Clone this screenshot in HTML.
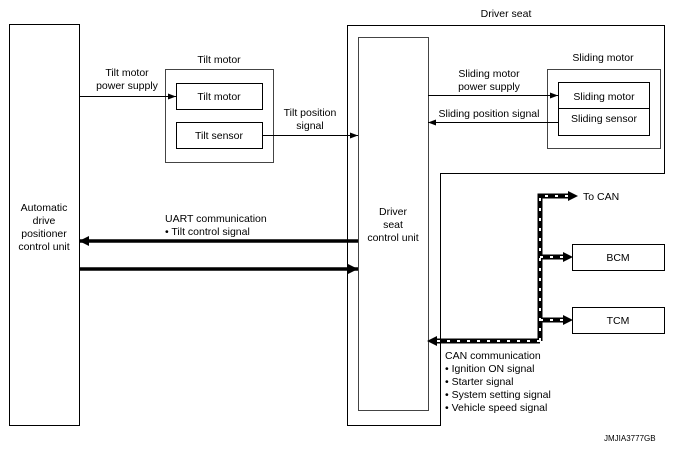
<!DOCTYPE html>
<html><head><meta charset="utf-8"><style>
body{margin:0;background:#fff}
svg text{font-family:"Liberation Sans",sans-serif;font-size:10.5px;fill:#000}
</style></head><body>
<svg width="674" height="449" viewBox="0 0 674 449" xmlns="http://www.w3.org/2000/svg">
<defs>
<marker id="a" markerWidth="8" markerHeight="6" refX="8" refY="3" orient="auto" markerUnits="userSpaceOnUse"><path d="M0,0L8,3L0,6z" fill="#000"/></marker>
<marker id="b" markerWidth="10" markerHeight="10" refX="10" refY="5" orient="auto" markerUnits="userSpaceOnUse"><path d="M0,0L10,5L0,10z" fill="#000"/></marker>
</defs>
<g fill="none" stroke="#000" stroke-width="1">
<rect x="9.5" y="24.5" width="70" height="401"/>
<rect x="165.5" y="69.5" width="108" height="93" stroke="#444"/>
<rect x="176.5" y="83.5" width="86" height="26"/>
<rect x="176.5" y="122.5" width="86" height="26"/>
<path d="M347.5,25.5H664.5V173.5H440.5V425.5H347.5Z"/>
<rect x="358.5" y="37.5" width="70" height="373" stroke="#444"/>
<rect x="547.5" y="69.5" width="113" height="79" stroke="#444"/>
<rect x="558.5" y="82.5" width="91" height="53"/>
<line x1="558" y1="108.5" x2="650" y2="108.5"/>
<rect x="572.5" y="244.5" width="92" height="26"/>
<rect x="572.5" y="307.5" width="92" height="26"/>
<line x1="79" y1="96.5" x2="176" y2="96.5" marker-end="url(#a)"/>
<line x1="262" y1="135.5" x2="358" y2="135.5" marker-end="url(#a)"/>
<line x1="428" y1="95.5" x2="558" y2="95.5" marker-end="url(#a)"/>
<line x1="558" y1="122.5" x2="428" y2="122.5" marker-end="url(#a)"/>
<line x1="358" y1="241" x2="79" y2="241" stroke-width="3.5" marker-end="url(#b)"/>
<line x1="79" y1="269" x2="358" y2="269" stroke-width="3.5" marker-end="url(#b)"/>
<g stroke-width="5" stroke="#000">
<path d="M540,341V196H570"/><path d="M540,257H564"/><path d="M540,320H564"/><path d="M540,341H436"/>
</g>
<g stroke-width="2" stroke="#fff" stroke-dasharray="3 7">
<path d="M540,341V196H570"/><path d="M540,257H564"/><path d="M540,320H564"/><path d="M540,341H436"/>
</g>
</g>
<g fill="#000">
<path d="M568,191L578,196L568,201z"/>
<path d="M563,252L573,257L563,262z"/>
<path d="M563,315L573,320L563,325z"/>
<path d="M437,336L427,341L437,346z"/>
</g>
<text x="44" y="211" text-anchor="middle">Automatic</text>
<text x="44" y="224" text-anchor="middle">drive</text>
<text x="44" y="237" text-anchor="middle">positioner</text>
<text x="44" y="250" text-anchor="middle">control unit</text>
<text x="219" y="63" text-anchor="middle">Tilt motor</text>
<text x="127" y="76" text-anchor="middle">Tilt motor</text>
<text x="127" y="89" text-anchor="middle">power supply</text>
<text x="219" y="100" text-anchor="middle">Tilt motor</text>
<text x="219" y="139" text-anchor="middle">Tilt sensor</text>
<text x="310" y="116" text-anchor="middle">Tilt position</text>
<text x="310" y="129" text-anchor="middle">signal</text>
<text x="165" y="222">UART communication</text>
<text x="165" y="235">• Tilt control signal</text>
<text x="506" y="17" text-anchor="middle">Driver seat</text>
<text x="393" y="215" text-anchor="middle">Driver</text>
<text x="393" y="228" text-anchor="middle">seat</text>
<text x="393" y="241" text-anchor="middle">control unit</text>
<text x="603" y="61" text-anchor="middle">Sliding motor</text>
<text x="489" y="77" text-anchor="middle">Sliding motor</text>
<text x="489" y="90" text-anchor="middle">power supply</text>
<text x="489" y="117" text-anchor="middle">Sliding position signal</text>
<text x="604" y="100" text-anchor="middle">Sliding motor</text>
<text x="604" y="122" text-anchor="middle">Sliding sensor</text>
<text x="583" y="200">To CAN</text>
<text x="618" y="261" text-anchor="middle">BCM</text>
<text x="618" y="324" text-anchor="middle">TCM</text>
<text x="445" y="359">CAN communication</text>
<text x="445" y="372">• Ignition ON signal</text>
<text x="445" y="385">• Starter signal</text>
<text x="445" y="398">• System setting signal</text>
<text x="445" y="411">• Vehicle speed signal</text>
<text x="604" y="441" style="font-size:8px">JMJIA3777GB</text>
</svg>
</body></html>
